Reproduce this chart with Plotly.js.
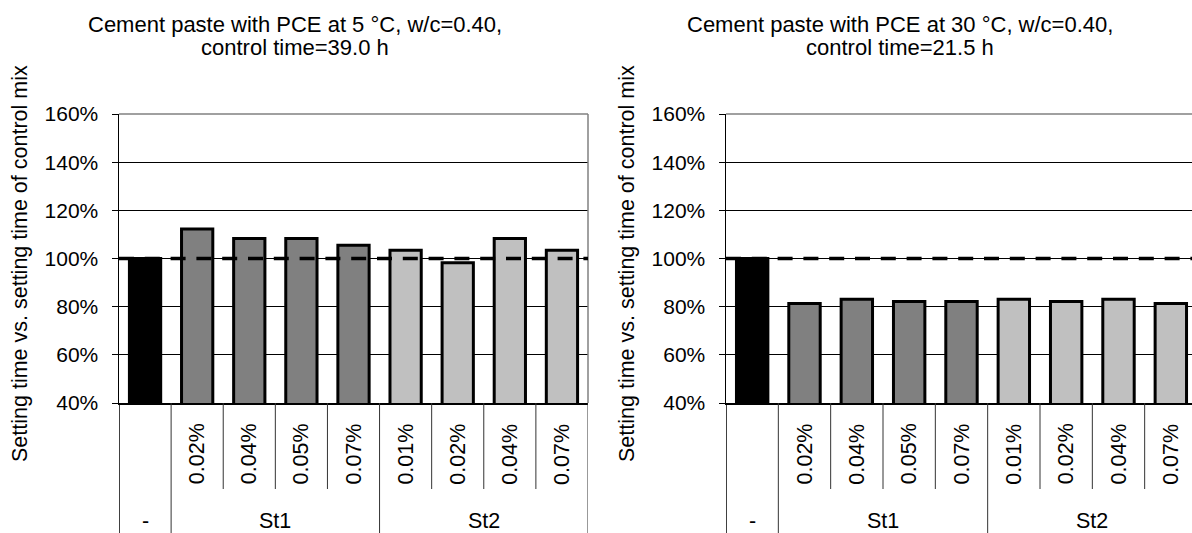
<!DOCTYPE html>
<html>
<head>
<meta charset="utf-8">
<script src="https://cdn.plot.ly/plotly-3.0.1.min.js"></script>
<style>
  html, body { margin: 0; padding: 0; background: #fff; overflow: hidden; }
  #chart { width: 1200px; height: 533px; }
</style>
</head>
<body>
<div id="chart"></div>
<script>
// ---- data ----
const groups = ['-', 'St1', 'St1', 'St1', 'St1', 'St2', 'St2', 'St2', 'St2'];
const doses  = ['', '0.02%', '0.04%', '0.05%', '0.07%', '0.01%', '0.02%', '0.04%', '0.07%'];
const values5C  = [100, 112.2, 108.3, 108.3, 105.5, 103.4, 98.2, 108.3, 103.4];
const values30C = [100, 81.3, 83.1, 82.1, 82.1, 83.1, 82.1, 83.1, 81.3];
const yTicks = [40, 60, 80, 100, 120, 140, 160];
const controlLevel = 100;
const title5C  = ['Cement paste with PCE at 5 °C, w/c=0.40,', 'control time=39.0 h'];
const title30C = ['Cement paste with PCE at 30 °C, w/c=0.40,', 'control time=21.5 h'];
const yTitle = 'Setting time vs. setting time of control mix';

// ---- styling ----
const W = 1200, H = 533;
const FONT = 'Liberation Sans, Arial, sans-serif';
const groupColors = {'-': '#000000', 'St1': '#808080', 'St2': '#c0c0c0'};
const idx = groups.map((_, i) => i);
const colors = groups.map(g => groupColors[g]);

const plotTop = 114, plotBottom = 403;
const yDom = [(H - plotBottom) / H, (H - plotTop) / H];
const panels = [
  {xa: 'x', ya: 'y', left: 119, right: 588, titleX: 295, yTitleX: 20, vals: values5C, title: title5C},
  {xa: 'x2', ya: 'y2', left: 726, right: 1197, titleX: 900, yTitleX: 627, vals: values30C, title: title30C}
];

const traces = [];
const shapes = [];
const annotations = [];
const layout = {
  width: W, height: H,
  margin: {l: 0, r: 0, t: 0, b: 0},
  paper_bgcolor: '#fff', plot_bgcolor: '#fff',
  showlegend: false,
  bargap: 0.4,
  font: {family: FONT, size: 21, color: '#000'},
  shapes: shapes, annotations: annotations
};

const innerBottom = (H - 489) / H;
const n = groups.length;
const lblFont = {family: FONT, size: 21.5, color: '#000'};

panels.forEach((p, k) => {
  traces.push({
    type: 'bar', x: idx, y: p.vals,
    xaxis: p.xa, yaxis: p.ya,
    marker: {color: colors, line: {color: '#000', width: 3}},
    hoverinfo: 'y'
  });
  const xKey = k === 0 ? 'xaxis' : 'xaxis2';
  const yKey = k === 0 ? 'yaxis' : 'yaxis2';
  layout[xKey] = {
    domain: [p.left / W, p.right / W],
    range: [-0.5, n - 0.5],
    showgrid: false, zeroline: false,
    showticklabels: false, ticks: '',
    showline: true, linecolor: '#000', linewidth: 1.5,
    anchor: p.ya, fixedrange: true
  };
  layout[yKey] = {
    domain: yDom,
    range: [yTicks[0], yTicks[yTicks.length - 1]],
    tickvals: yTicks, ticktext: yTicks.map(v => v + '%'),
    ticks: 'outside', ticklen: 6, tickcolor: '#000', tickwidth: 1,
    ticklabelstandoff: 9,
    tickfont: {family: FONT, size: 21, color: '#000'},
    showgrid: true, gridcolor: '#000', gridwidth: 1,
    zeroline: false,
    showline: true, linecolor: '#000', linewidth: 1.5,
    anchor: p.xa, fixedrange: true
  };
  // top & right frame in grey
  shapes.push({type: 'line', xref: p.xa + ' domain', yref: p.ya + ' domain', x0: 0, x1: 1, y0: 1, y1: 1,
               line: {color: '#808080', width: 1.5}, layer: 'above'});
  shapes.push({type: 'line', xref: p.xa + ' domain', yref: p.ya + ' domain', x0: 1, x1: 1, y0: 0, y1: 1,
               line: {color: '#808080', width: 1.5}, layer: 'above'});
  // control reference dashed line
  shapes.push({type: 'line', xref: p.xa, yref: p.ya, x0: -0.5, x1: n - 0.5, y0: controlLevel, y1: controlLevel,
               line: {color: '#000', width: 3.5, dash: '15px,10.8px'}, layer: 'above'});
  // category table lines below axis
  for (let i = 0; i <= n; i++) {
    const xb = i - 0.5;
    const isGroupEdge = (i === 0 || i === n || groups[i] !== groups[i - 1]);
    shapes.push({type: 'line', xref: p.xa, yref: 'paper', x0: xb, x1: xb,
                 y0: isGroupEdge ? 0 : innerBottom, y1: yDom[0],
                 line: {color: i === 0 ? '#000' : '#333', width: i === 0 ? 1.5 : 1}});
  }
  // dose labels
  doses.forEach((d, i) => {
    if (!d) return;
    annotations.push({xref: p.xa, yref: 'paper', x: i, y: (H - 454) / H, text: d, textangle: -90,
                      showarrow: false, xanchor: 'center', yanchor: 'middle', font: lblFont});
  });
  // group labels
  const uniq = [...new Set(groups)];
  uniq.forEach(g => {
    const members = idx.filter(i => groups[i] === g);
    const c = (members[0] + members[members.length - 1]) / 2;
    annotations.push({xref: p.xa, yref: 'paper', x: c, y: (H - 521) / H, text: g,
                      showarrow: false, xanchor: 'center', yanchor: 'middle', font: lblFont});
  });
  // title (two lines)
  const titleYs = [24, 48];
  p.title.forEach((line, j) => {
    annotations.push({xref: 'paper', yref: 'paper', x: p.titleX / W, y: 1 - titleYs[j] / H, text: line,
                      showarrow: false, xanchor: 'center', yanchor: 'middle', align: 'center',
                      font: {family: FONT, size: 22, color: '#000'}});
  });
  // y title
  annotations.push({xref: 'paper', yref: 'paper', x: p.yTitleX / W, y: 1 - 264 / H, text: yTitle,
                    textangle: -90, showarrow: false, xanchor: 'center', yanchor: 'middle', font: lblFont});
});

Plotly.newPlot('chart', traces, layout, {displayModeBar: false, staticPlot: true});
</script>
</body>
</html>
